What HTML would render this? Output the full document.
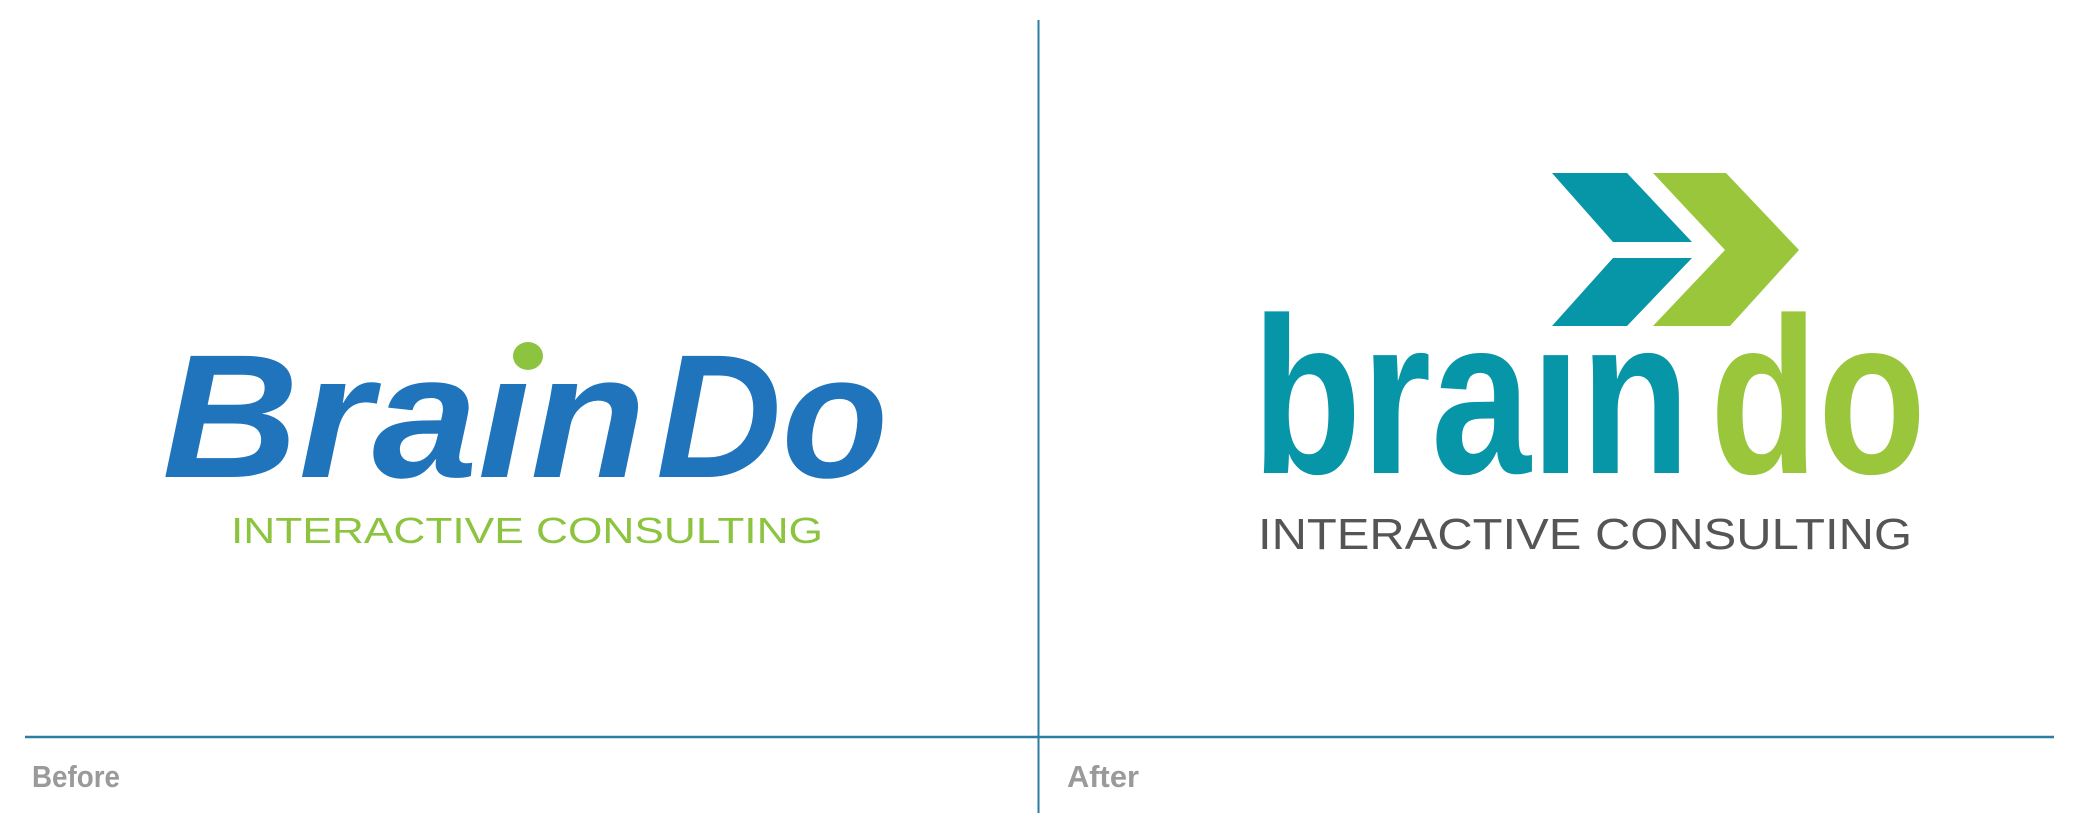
<!DOCTYPE html>
<html><head><meta charset="utf-8"><style>
html,body{margin:0;padding:0;background:#fff;width:2084px;height:813px;overflow:hidden}
svg{display:block}
</style></head><body>
<svg width="2084" height="813" viewBox="0 0 2084 813" xmlns="http://www.w3.org/2000/svg">
<rect width="2084" height="813" fill="#fff"/>
<line x1="1038.5" y1="20" x2="1038.5" y2="813" stroke="#2a7ea0" stroke-width="2"/>
<line x1="25" y1="737" x2="2054" y2="737" stroke="#2a7ea0" stroke-width="2.5"/>
<text x="32" y="787" font-family="Liberation Sans, sans-serif" font-weight="bold" font-size="31" fill="#9a9a9a" textLength="88" lengthAdjust="spacingAndGlyphs">Before</text>
<text x="1067" y="787" font-family="Liberation Sans, sans-serif" font-weight="bold" font-size="31" fill="#9a9a9a" textLength="72" lengthAdjust="spacingAndGlyphs">After</text>

<!-- Before logo -->
<text x="162" y="477" font-family="Liberation Sans, sans-serif" font-weight="bold" font-style="italic" font-size="176" fill="#1f74bc" textLength="484" lengthAdjust="spacingAndGlyphs">Braın</text>
<text x="656" y="477" font-family="Liberation Sans, sans-serif" font-weight="bold" font-style="italic" font-size="176" fill="#1f74bc" textLength="232" lengthAdjust="spacingAndGlyphs">Do</text>
<ellipse cx="528" cy="356" rx="15" ry="14" fill="#8cc43f"/>
<text x="231" y="543" font-family="Liberation Sans, sans-serif" font-size="36" fill="#8cc43f" textLength="592" lengthAdjust="spacingAndGlyphs">INTERACTIVE CONSULTING</text>

<!-- After logo chevrons -->
<polygon points="1552,173 1627,173 1692,242 1613,242" fill="#0795a8"/>
<polygon points="1613,258 1692,258 1627,326 1552,326" fill="#0795a8"/>
<polygon points="1653,173 1726,173 1799,250 1730,326 1653,326 1725,250" fill="#9ac63c"/>
<text x="1252" y="473" font-family="Liberation Sans, sans-serif" font-weight="bold" font-size="223" fill="#0795a8" textLength="438" lengthAdjust="spacingAndGlyphs">braın</text>
<text x="1710" y="473" font-family="Liberation Sans, sans-serif" font-weight="bold" font-size="223" fill="#9ac63c" textLength="216" lengthAdjust="spacingAndGlyphs">do</text>
<text x="1258" y="549" font-family="Liberation Sans, sans-serif" font-size="44" fill="#555" textLength="654" lengthAdjust="spacingAndGlyphs">INTERACTIVE CONSULTING</text>
</svg>
</body></html>
